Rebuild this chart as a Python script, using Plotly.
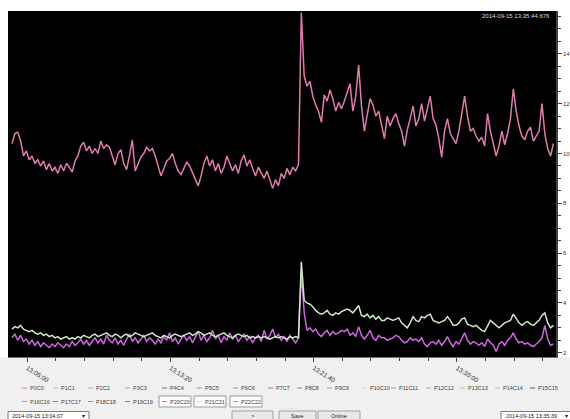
import plotly.graph_objects as go
from datetime import datetime, timedelta

# ---------------- data ----------------
START = datetime(2014, 9, 15, 13, 4, 7)
STEP_S = 10  # seconds between samples

# P20C20 (violet)
p20c20 = [
    2.6, 2.75, 2.5, 2.7, 2.45, 2.55, 2.35, 2.5, 2.3, 2.45,
    2.25, 2.4, 2.3, 2.2, 2.35, 2.25, 2.4, 2.3, 2.2, 2.35,
    2.25, 2.45, 2.3, 2.4, 2.55, 2.35, 2.5, 2.3, 2.45, 2.6,
    2.4, 2.55, 2.35, 2.7, 2.5, 2.4, 2.6, 2.35, 2.5, 2.3,
    2.55, 2.75, 2.45, 2.6, 2.4, 2.55, 2.7, 2.45, 2.6, 2.5,
    2.35, 2.55, 2.4, 2.65, 2.5, 2.8, 2.45, 2.6, 2.35, 2.55,
    2.7, 2.5, 2.65, 2.4, 2.6, 2.85, 2.5, 2.7, 2.45, 2.6,
    2.9, 2.55, 2.7, 2.4, 2.65, 2.5, 2.8, 2.55, 2.7, 2.45,
    2.6, 2.75, 2.5, 2.65, 2.4, 2.6, 2.7, 2.45, 2.9, 2.55,
    2.7, 2.95, 2.6, 2.75, 2.5, 2.65, 2.45, 2.7, 2.55, 2.4,
    2.6, 5.2, 3.6, 2.9, 3.0, 2.85, 2.95, 2.75, 2.65, 2.8,
    2.9, 2.7, 2.85, 2.75, 2.8, 2.9, 2.85, 2.95, 2.7, 2.8,
    2.65, 3.05, 2.7, 2.55, 2.7, 2.9, 2.6, 2.5, 2.7, 2.6,
    2.6, 2.5, 2.55, 2.6, 2.7, 2.65, 2.5, 2.4, 2.45, 2.6,
    2.5, 2.55, 2.45, 2.6, 2.35, 2.25, 2.4, 2.45, 2.35, 2.5,
    2.3, 2.45, 2.65, 2.4, 2.25, 2.45, 2.35, 2.6, 2.8, 2.5,
    2.35, 2.45, 2.4, 2.3, 2.4, 2.25, 2.55, 2.4, 2.3, 2.05,
    2.35, 2.45, 2.3, 2.5, 2.6, 2.8, 2.55, 2.4, 2.45, 2.35,
    2.4, 2.3, 2.25, 2.35, 2.45, 2.6, 3.1, 2.55, 2.3, 2.35,
]

# P21C21 (pale green)
p21c21 = [
    2.95, 3.05, 3.0, 3.1, 2.95, 2.9, 2.85, 2.9, 2.8, 2.75,
    2.8, 2.7, 2.75, 2.65, 2.7, 2.6, 2.65, 2.55, 2.6, 2.65,
    2.55, 2.6, 2.55, 2.65, 2.6, 2.7, 2.65, 2.6, 2.7, 2.75,
    2.65, 2.7, 2.75, 2.8, 2.7, 2.65, 2.75, 2.7, 2.6, 2.7,
    2.75, 2.65, 2.7, 2.8, 2.75, 2.7, 2.65, 2.7, 2.75, 2.8,
    2.7, 2.65, 2.6, 2.7, 2.65, 2.6, 2.7, 2.75, 2.7, 2.65,
    2.7, 2.75, 2.8, 2.7, 2.75, 2.85, 2.8, 2.7, 2.75, 2.8,
    2.7, 2.65, 2.7, 2.75, 2.8, 2.7, 2.65, 2.6, 2.7, 2.75,
    2.7, 2.65, 2.7, 2.6, 2.65, 2.6, 2.65, 2.6, 2.65, 2.6,
    2.55, 2.6, 2.65, 2.6, 2.65, 2.6, 2.55, 2.65, 2.6, 2.65,
    2.6, 5.65, 4.1, 4.0, 3.95, 3.85, 3.7, 3.6, 3.55, 3.6,
    3.7, 3.55, 3.5, 3.6, 3.55, 3.65, 3.7, 3.75, 3.7, 3.6,
    3.75, 3.9, 3.5, 3.45, 3.55, 3.4, 3.5, 3.35, 3.45, 3.3,
    3.3, 3.4, 3.35, 3.3, 3.35, 3.4, 3.2, 3.1, 3.0, 3.2,
    3.45, 3.3, 3.25, 3.45, 3.4, 3.5, 3.55, 3.3, 3.25, 3.2,
    3.25, 3.3, 3.45, 3.3, 3.1, 3.1, 3.2, 3.35, 3.4, 3.15,
    3.1, 3.05, 3.1, 3.0, 2.9, 2.85, 3.05, 3.3, 3.2, 3.1,
    3.0, 3.1, 3.2, 3.25, 3.3, 3.55, 3.35, 3.2, 3.1, 3.2,
    3.25, 3.15, 3.1, 3.2, 3.3, 3.5, 3.6, 3.2, 3.0, 3.1,
]

# P22C22 (pink)
p22c22 = [
    10.4, 10.8, 10.85, 10.5, 9.9, 10.1, 9.75, 9.9, 9.6, 9.75,
    9.5, 9.7, 9.35, 9.6, 9.3, 9.45, 9.2, 9.55, 9.3, 9.6,
    9.45, 9.25, 9.7, 9.9, 10.3, 10.45, 10.1, 10.3, 10.0, 10.2,
    10.0, 10.5, 10.2, 10.35, 10.25, 9.9, 9.55, 10.0, 10.15, 9.6,
    9.35, 9.9, 10.55, 9.3, 9.6, 9.85, 10.0, 10.25, 10.1, 10.2,
    9.9, 9.5, 9.1, 9.4, 9.7, 9.8, 10.0, 9.6, 9.3, 9.15,
    9.4, 9.65, 9.5, 9.25, 9.0, 8.7, 9.1, 9.6, 9.9, 9.5,
    9.75, 9.3, 9.6, 9.2, 9.45, 9.9, 9.6, 9.3, 9.55, 9.2,
    9.7, 9.95, 9.5, 9.75, 9.4, 9.1, 9.45, 9.2, 9.0, 9.3,
    8.9, 8.6, 8.95, 8.7, 9.2, 9.0, 9.4, 9.15, 9.45, 9.3,
    9.55, 15.65, 13.1, 12.7, 12.9, 12.3, 11.95, 11.7, 11.25, 12.35,
    12.1, 12.55, 12.2, 11.7, 12.05, 11.8, 12.1, 12.45, 12.8, 11.7,
    12.3, 13.55, 11.9, 10.9, 11.6, 12.2, 11.95, 11.5, 11.7, 11.2,
    10.6, 11.5, 11.1, 11.4, 11.6, 11.2, 10.9, 10.3, 10.95, 11.4,
    11.9, 11.1, 11.4, 12.0, 11.3, 11.8, 12.3, 11.4, 11.15, 10.6,
    9.85, 10.9, 11.4, 10.8, 10.6, 10.4, 10.9, 11.6, 12.3, 11.5,
    10.9, 11.0, 10.7, 10.5, 10.65, 10.3, 11.6, 10.9, 10.4, 9.9,
    10.3, 10.9, 10.35, 10.8, 11.4, 12.6, 11.7, 11.1, 10.7, 10.55,
    10.9, 11.05, 10.5, 10.7, 10.9, 12.0, 10.8, 10.2, 9.9, 10.4,
]

legend_names = [
    "P0C0", "P1C1", "P2C2", "P3C3", "P4C4", "P5C5", "P6C6", "P7C7",
    "P8C8", "P9C9", "P10C10", "P11C11", "P12C12", "P13C13", "P14C14", "P15C15",
    "P16C16", "P17C17", "P18C18", "P19C19", "P20C20", "P21C21", "P22C22",
]
legend_colors = [
    "#c77ddb", "#a8c8a0", "#5cc8c0", "#80a8d8", "#707070", "#50b0b0", "#909090", "#a070d0",
    "#8080e0", "#a0a060", "#d0e0a0", "#d070c0", "#c0a0e0", "#80d0e0", "#90e090", "#606060",
    "#b080e0", "#4090e0", "#40b0c0", "#40a080", "#cc66dd", "#cde8c4", "#e07aae",
]
selected = ["P20C20", "P21C21", "P22C22"]
plotted = {"P20C20": p20c20, "P21C21": p21c21, "P22C22": p22c22}

x_range = ["2014-09-15 13:03:53", "2014-09-15 13:35:46"]
y_range = [1.83, 15.72]
start_label = "2014-09-15 13:04:07"
end_label = "2014-09-15 13:35:39"
stamp_label = "2014-09-15 13:35:44.676"

# ---------------- layout helpers ----------------
W, H = 570, 419
ML, MR, MT, MB = 8, 14, 11, 62
PW, PH = W - ML - MR, H - MT - MB


def px(xp):
    return (xp - ML) / PW


def py(yp):
    return (H - MB - yp) / PH


FONT = "Liberation Sans, Arial, sans-serif"

fig = go.Figure()
for name in selected:
    vals = plotted[name]
    times = [START + timedelta(seconds=STEP_S * i) for i in range(len(vals))]
    fig.add_trace(go.Scatter(
        x=times, y=vals, mode="lines", name=name,
        line=dict(color=legend_colors[legend_names.index(name)], width=1.5),
        hoverinfo="skip", showlegend=False,
    ))

shapes = []
annotations = []

# grey panel below the plot
shapes.append(dict(type="rect", xref="paper", yref="paper",
                   x0=px(-5), x1=px(W + 5), y0=py(H + 5), y1=py(H - MB),
                   fillcolor="#f0f0f0", line=dict(width=0), layer="below"))

# legend grid
col_x = [22, 53, 88, 125, 162, 197, 233, 268, 297, 327, 362, 391, 426, 460, 495, 530]
row_y = [388, 401.5]
for k, (name, col) in enumerate(zip(legend_names, legend_colors)):
    r, c = divmod(k, 16)
    lx, ly = col_x[c], row_y[r]
    if name in selected:
        shapes.append(dict(type="rect", xref="paper", yref="paper",
                           x0=px(lx - 3), x1=px(lx + 29), y0=py(ly + 5.5), y1=py(ly - 5.5),
                           fillcolor="#fbfbfb", line=dict(color="#9a9a9a", width=1)))
    shapes.append(dict(type="line", xref="paper", yref="paper",
                       x0=px(lx), x1=px(lx + 5), y0=py(ly), y1=py(ly),
                       line=dict(color=col, width=1)))
    annotations.append(dict(text=name, xref="paper", yref="paper", x=px(lx + 6), y=py(ly),
                            xanchor="left", yanchor="middle", showarrow=False,
                            font=dict(family=FONT, size=5.5, color="#404040")))


# bottom controls (reaching the window's lower edge)
def box(x0, x1, y0, fill, border):
    shapes.append(dict(type="rect", xref="paper", yref="paper",
                       x0=px(x0), x1=px(x1), y0=py(H + 6), y1=py(y0),
                       fillcolor=fill, line=dict(color=border, width=1)))


def label(t, x, y, anchor="left", size=5.5, color="#202020"):
    annotations.append(dict(text=t, xref="paper", yref="paper", x=px(x), y=py(y),
                            xanchor=anchor, yanchor="middle", showarrow=False,
                            font=dict(family=FONT, size=size, color=color)))


TXT_Y = 416
box(8, 89, 411.5, "#ffffff", "#7a7a7a")
label(start_label, 10, TXT_Y)
label("▾", 83, TXT_Y, anchor="center", size=6)
box(232, 273, 411, "#e9e9e9", "#a0a0a0")
label(">", 252.5, TXT_Y, anchor="center", size=6)
box(279, 316, 411, "#e9e9e9", "#a0a0a0")
label("Save", 297.5, TXT_Y, anchor="center")
box(318, 360, 411, "#e9e9e9", "#a0a0a0")
label("Online", 339, TXT_Y, anchor="center")
label("······", 291, 408, anchor="center", size=5.5, color="#9a9a9a")
box(501, 572, 411.5, "#ffffff", "#7a7a7a")
label(end_label, 503.5, TXT_Y)
label("▾", 566, TXT_Y, anchor="center", size=6)

# time stamp in the plot corner
annotations.append(dict(text=stamp_label, xref="paper", yref="paper", x=px(552), y=py(16),
                        xanchor="right", yanchor="middle", showarrow=False,
                        font=dict(family=FONT, size=6, color="#d8d8d8")))

fig.update_layout(
    width=W, height=H,
    margin=dict(l=ML, r=MR, t=MT, b=MB, pad=0, autoexpand=False),
    paper_bgcolor="#ffffff", plot_bgcolor="#000000",
    showlegend=False,
    shapes=shapes, annotations=annotations,
    xaxis=dict(
        type="date", range=x_range, automargin=False,
        tickmode="linear", tick0="2014-09-15 13:05:00", dtick=500000,
        tickformat="%H:%M:%S", tickangle=32,
        ticks="outside", ticklen=4, tickcolor="#404040",
        showgrid=False, zeroline=False, showline=True, linecolor="#707070",
        tickfont=dict(family=FONT, size=6.5, color="#333333"),
        minor=dict(tickmode="linear", tick0="2014-09-15 13:05:00", dtick=100000,
                   ticks="outside", ticklen=3, tickcolor="#404040", showgrid=False),
    ),
    yaxis=dict(
        side="right", range=y_range, automargin=False,
        tickmode="linear", tick0=0, dtick=2,
        ticks="outside", ticklen=4, tickcolor="#404040",
        showgrid=False, zeroline=False, showline=True, linecolor="#404040", linewidth=1.5,
        tickfont=dict(family=FONT, size=6, color="#333333"),
        minor=dict(dtick=0.5, ticks="outside", ticklen=3, tickcolor="#404040", showgrid=False),
    ),
)

fig.write_html(
    "out.html",
    config={"displayModeBar": False},
    post_script="document.body.style.margin='0';document.body.style.overflow='hidden';",
)
